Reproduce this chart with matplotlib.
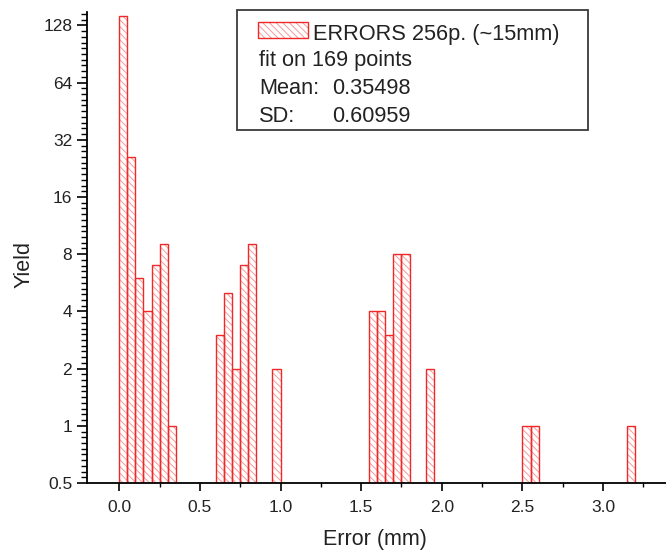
import matplotlib
matplotlib.use("Agg")
import matplotlib.pyplot as plt
import numpy as np
from matplotlib.patches import Rectangle
from matplotlib.ticker import FixedLocator, FixedFormatter, MultipleLocator

# histogram of errors, 0.05 mm bins (left edges and counts)
bin_left = [0.00, 0.05, 0.10, 0.15, 0.20, 0.25, 0.30,
            0.60, 0.65, 0.70, 0.75, 0.80,
            0.95,
            1.55, 1.60, 1.65, 1.70, 1.75,
            1.90,
            2.50, 2.55,
            3.15]
counts = [143, 26, 6, 4, 7, 9, 1,
          3, 5, 2, 7, 9,
          2,
          4, 4, 3, 8, 8,
          2,
          1, 1,
          1]
bin_width = 0.05

y_ticks = [0.5, 1, 2, 4, 8, 16, 32, 64, 128]
y_ticklabels = ["0.5", "1", "2", "4", "8", "16", "32", "64", "128"]
x_ticks = [0.0, 0.5, 1.0, 1.5, 2.0, 2.5, 3.0]

legend_label = "ERRORS 256p. (~15mm)"
fit_text = "fit on 169 points"
stats = [("Mean:", "0.35498"), ("SD:", "0.60959")]

plt.rcParams['font.family'] = ['Liberation Sans', 'DejaVu Sans']
plt.rcParams['hatch.linewidth'] = 0.7
plt.rcParams['text.color'] = '#222222'
plt.rcParams['xtick.labelcolor'] = '#222222'
plt.rcParams['ytick.labelcolor'] = '#222222'

W, H = 666, 552
fig = plt.figure(figsize=(W / 100, H / 100), dpi=100)

# axes box in pixels: left 87, right 666, top 12, bottom 483
ax = fig.add_axes([87 / W, (H - 483) / H, (W - 87) / W, (483 - 12) / H])
ax.set_yscale('log', base=2)

red = '#f02828'
hatch_red = '#f59a9a'
hatch = '\\\\\\\\\\'

# hatched fill, then the red outline on top
ax.bar(bin_left, counts, width=bin_width, align='edge',
       facecolor='none', edgecolor=hatch_red, hatch=hatch, linewidth=0)
ax.bar(bin_left, counts, width=bin_width, align='edge',
       facecolor='none', edgecolor=red, linewidth=1.0)

ax.set_xlim(-0.2, 3.39)
ax.set_ylim(0.5, 150.6)

ax.yaxis.set_major_locator(FixedLocator(y_ticks))
ax.yaxis.set_major_formatter(FixedFormatter(y_ticklabels))
minor_y = [2 ** (k + i / 10) for k in range(-1, 8) for i in range(1, 10)]
ax.yaxis.set_minor_locator(FixedLocator(minor_y))
ax.yaxis.set_minor_formatter(FixedFormatter([]))

ax.xaxis.set_major_locator(FixedLocator(x_ticks))
ax.xaxis.set_major_formatter(FixedFormatter([f"{v:.1f}" for v in x_ticks]))
ax.xaxis.set_minor_locator(MultipleLocator(0.25))

for side in ('top', 'right'):
    ax.spines[side].set_visible(False)
for side in ('left', 'bottom'):
    ax.spines[side].set_linewidth(1.3)

ax.tick_params(axis='y', which='major', direction='out', length=7.2, width=1.2,
               labelsize=12.5, pad=3.5)
ax.tick_params(axis='y', which='minor', direction='out', length=4, width=1.0)
ax.tick_params(axis='x', which='major', direction='out', length=5.5, width=1.2,
               labelsize=12.5, pad=6.5)
ax.tick_params(axis='x', which='minor', direction='out', length=3, width=1.0)

fig.text(375 / W, 1 - 540 / H, "Error (mm)", fontsize=15.5, ha='center', va='center')
fig.text(24 / W, 1 - 264 / H, "Yield", fontsize=15.5, ha='center', va='center',
         rotation=90)

# stats box with legend entry
def px(x, y):
    return x / W, 1 - y / H

box = Rectangle(px(237, 130), (588 - 237) / W, (130 - 10) / H,
                transform=fig.transFigure, facecolor='white',
                edgecolor='#3a3a3a', linewidth=1.3, zorder=5)
fig.add_artist(box)
swatch_fill = Rectangle(px(258, 38), 50 / W, 16 / H, transform=fig.transFigure,
                        facecolor='none', edgecolor=hatch_red, hatch=hatch,
                        linewidth=0, zorder=6)
swatch_edge = Rectangle(px(258, 38), 50 / W, 16 / H, transform=fig.transFigure,
                        facecolor='none', edgecolor=red, linewidth=1.0, zorder=6)
fig.add_artist(swatch_fill)
fig.add_artist(swatch_edge)

fs = 15.7
fig.text(*px(313, 40), legend_label, fontsize=fs, va='baseline', zorder=7)
fig.text(*px(259, 66), fit_text, fontsize=fs, va='baseline', zorder=7)
for i, (name, val) in enumerate(stats):
    y = 94 + 28 * i
    fig.text(*px(259, y), name, fontsize=fs, va='baseline', zorder=7)
    fig.text(*px(332, y), val, fontsize=fs, va='baseline', zorder=7)

fig.savefig("out.png", dpi=100)
